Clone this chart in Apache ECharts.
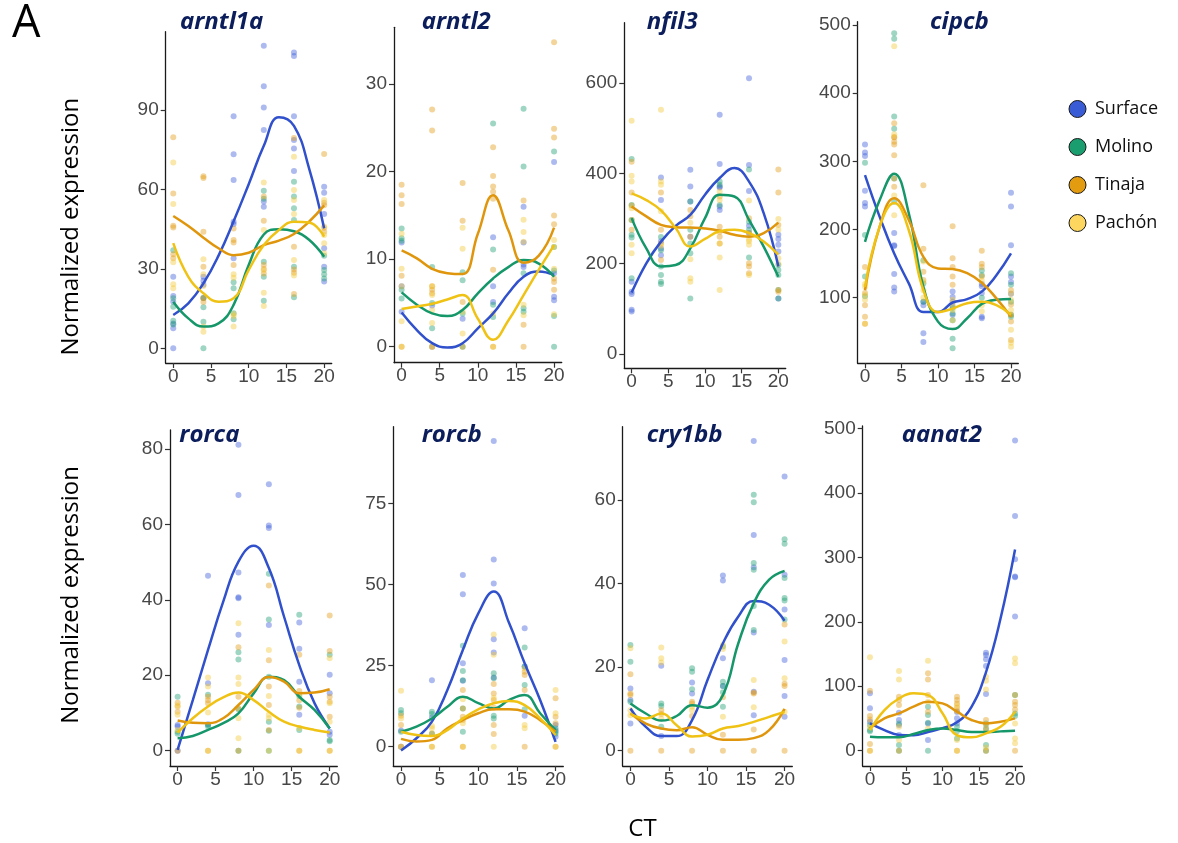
<!DOCTYPE html>
<html>
<head>
<meta charset="utf-8">
<script src="https://cdn.jsdelivr.net/npm/echarts@6/dist/echarts.min.js"></script>
<style>
html,body{margin:0;padding:0;background:#ffffff;}
#chart{width:1178px;height:843px;}
</style>
</head>
<body>
<div id="chart"></div>
<script>
// ================= DATA =================
const POPULATIONS = ['Surface', 'Molino', 'Tinaja', 'Pachón'];
const GENES = ['arntl1a', 'arntl2', 'nfil3', 'cipcb', 'rorca', 'rorcb', 'cry1bb', 'aanat2'];
const CT_SAMPLES = [0, 4, 8, 12, 16, 20];
const CT_FIT = [0, 2, 4, 6, 8, 10, 12, 14, 16, 18, 20];
const X_TICKS = [0, 5, 10, 15, 20];
const Y_TICKS = [
  [0, 30, 60, 90],
  [0, 10, 20, 30],
  [0, 200, 400, 600],
  [100, 200, 300, 400, 500],
  [0, 20, 40, 60, 80],
  [0, 25, 50, 75],
  [0, 20, 40, 60],
  [0, 100, 200, 300, 400, 500]
];

// Smooth fits, read at CT_FIT, order: Surface, Molino, Tinaja, Pachón
const arntl1aFit = [
  [12.6, 17, 24.5, 35, 48, 62, 76.5, 87.3, 84, 68, 45.3],
  [17.6, 11.3, 8.2, 9.4, 16.4, 31.5, 43, 45, 44.2, 41, 34.6],
  [50, 46.2, 41.8, 37.8, 35.2, 36.1, 39, 40.7, 43.2, 47.8, 54],
  [39.7, 27, 20.8, 17.6, 18.9, 29.6, 39, 44.7, 47.8, 47.5, 42.2]
];
const arntl2Fit = [
  [3.9, 1.9, 0.4, -0.1, 0.4, 2.1, 3.8, 6.1, 8, 8.6, 8.2],
  [6.2, 4.8, 3.8, 3.5, 4.2, 6.1, 7.8, 9.1, 9.9, 9.5, 8],
  [11, 10.1, 8.9, 8.4, 8.3, 12.9, 17.3, 13.3, 9.6, 10.4, 13.6],
  [4.3, 4.6, 4.9, 5.4, 5.9, 3.2, 0.8, 3, 5.9, 8.8, 11.6]
];
const nfil3Fit = [
  [136, 201, 249, 284, 308, 353, 390, 412, 382, 312, 194],
  [301, 234, 194, 197, 234, 301, 353, 349, 297, 238, 171],
  [327, 305, 286, 281, 280, 278, 273, 264, 260, 268, 291],
  [356, 341, 318, 279, 238, 255, 272, 275, 268, 249, 220]
];
const cipcbFit = [
  [280, 219, 165, 121, 79, 79, 93, 98, 109, 133, 165],
  [182, 243, 282, 224, 116, 65, 54, 70, 91, 97, 98],
  [111, 204, 246, 214, 160, 143, 142, 136, 122, 99, 72],
  [116, 204, 239, 199, 111, 79, 84, 92, 94, 89, 75]
];
const rorcaFit = [
  [0.2, 13.4, 26.7, 39.5, 50.1, 54.3, 48.4, 35.5, 22.7, 12.6, 5.9],
  [3.3, 3.9, 5.5, 7.3, 9.9, 15.2, 19.6, 18.7, 14.3, 10.8, 5.9],
  [8, 7.4, 7.3, 8.6, 12.1, 16.1, 19.5, 18.3, 15.2, 15.4, 16.3],
  [4.8, 8.6, 11.7, 14.1, 15.4, 13.4, 10.3, 7.7, 6.4, 5.5, 4.8]
];
const rorcbFit = [
  [-1.2, 2.6, 7.7, 17.5, 29.8, 41.1, 47.8, 38, 25.7, 14.4, 1.5],
  [4.6, 6.2, 8.7, 12.3, 15.4, 13.4, 11.8, 14.4, 15.9, 10.3, 5.1],
  [2.4, 1.6, 2.1, 5.7, 8.2, 10.3, 11.5, 11.5, 10.8, 8.2, 4.6],
  [4.6, 3.6, 3.3, 5.1, 8.7, 11.5, 13.4, 14.1, 12.8, 8.7, 3.6]
];
const cry1bbFit = [
  [10.1, 5.7, 3.5, 3.5, 7.3, 16.9, 25.7, 32.1, 35.8, 34.9, 31.1],
  [11.3, 8.9, 7.2, 8.3, 10.9, 10.3, 13.3, 25.7, 35.3, 40.9, 43],
  [8.9, 6.5, 5.3, 4.9, 5.6, 3.8, 2.6, 2.6, 3, 4.9, 10],
  [8.8, 7.7, 8.9, 6.1, 3.4, 3.8, 5.3, 5.9, 6.9, 8.1, 9.3]
];
const aanat2Fit = [
  [42.4, 32, 24.5, 24, 29, 35, 44, 68, 122, 205, 312],
  [21.7, 20.7, 20.7, 25.9, 32, 34.6, 32, 29, 29, 30, 31],
  [34.6, 50.2, 57.9, 68.3, 76, 73.4, 60.5, 47.6, 42.4, 45, 50.2],
  [32, 63, 81, 89, 86.3, 58, 24, 20.7, 27, 37, 60.5]
];

// Observations per population, grouped by CT_SAMPLES
const arntl1aObs = [
  [[0, 7.6, 9.4, 17.6, 19.8, 27], [27, 25.5, 24, 19], [87.7, 73.3, 63.6, 47.8, 47, 34], [114.3, 99, 91, 82.5, 55.5, 53.5], [111.7, 110.4, 87.7, 78.7, 75.5, 67], [61, 58.8, 50.7, 37.8, 30.8, 25.2]],
  [[37, 18.9, 15.7, 10.4, 9], [19, 15.5, 10, 0], [25, 22.7, 13.2, 11], [59.5, 56.5, 32.7, 27, 18], [62.9, 57.3, 52.9, 48.5, 30.8, 19.3], [35, 29.6, 28, 26.4]],
  [[79.7, 58.5, 46.3, 45.6, 35.5, 34], [65, 64.3, 44, 30.8, 18.9, 17.5], [45.3, 40.9, 40, 31.5], [57.3, 48.2, 31.5, 30, 28.3], [79.4, 38.4, 29.8, 28.5, 20.5], [73.4, 55, 54, 45.5, 44]],
  [[70.2, 54.5, 32.5, 24.2, 22.7], [33.6, 28, 23.5, 8.2, 6.3], [28, 26.7, 13, 12.2, 8.2], [62.6, 44.7, 29.5, 21, 16], [72.4, 59.8, 56, 50.7, 33.4, 27.5], [56, 46, 42.8, 39.7, 35.9]]
];
const arntl2Obs = [
  [[11.9, 6.9, 4], [4.7, 0], [3.2], [12.5, 6.9, 5.1], [16, 11.9, 9.4, 9.1], [21.1, 8.4, 5.7, 5.3]],
  [[13.5, 12.4, 12.1, 6.5, 5.5], [9.1, 5, 2.1], [8.5, 7.6, 3.8, 0], [25.5, 11.1, 4.8, 3.4], [27.2, 20.6, 8.4, 4.4, 4], [22.3, 11.4, 8.7, 3.5, 0]],
  [[18.5, 17.3, 16.3, 8.1, 0], [27.1, 24.7, 6.9, 6.5, 6.1, 0], [18.7, 14.4, 5.1, 0], [22.8, 19.5, 18.3, 17.7, 16.9, 8.8, 0], [16.7, 2.5, 0], [34.8, 24.9, 23.9, 15, 14, 7.8, 7.4, 6.5]],
  [[12.9, 8.9, 6.9, 2.9, 0], [6.9, 5.9, 4.2, 2.7, 0], [13.6, 11.2, 4, 1.5], [3.8, 0], [14.5, 13.1, 12, 4.8, 3.6], [12.2, 11.4, 8.9, 3.7]]
];
const nfil3Obs = [
  [[160, 138, 133, 98, 94], [391, 341, 250, 234, 219], [408, 371, 338, 260], [530, 421, 371, 369, 327, 319], [611, 419, 361, 284, 268], [264, 255, 242, 227, 123]],
  [[432, 330, 297, 264, 258, 168], [259, 230, 194, 175, 160, 155], [338, 275, 245, 223, 123], [382, 375, 330], [409, 293, 275, 214], [197, 186, 175, 142, 123]],
  [[426, 358, 329, 297, 275], [358, 275, 245, 208], [319, 305, 260], [349, 282, 271, 260, 245], [301, 268, 201, 194, 179], [409, 358, 286, 142, 138]],
  [[517, 395, 382, 323, 242, 223], [541, 382, 375, 316, 240], [291, 210, 168, 160], [360, 341, 245, 214, 142], [340, 254, 250, 242, 175], [299, 275, 212, 200]]
];
const cipcbObs = [
  [[325, 313, 308, 257, 239, 234], [195, 177, 176, 135, 115, 109], [94, 89, 48, 35], [109, 101, 94, 87, 75], [120, 117, 107, 72, 70], [254, 234, 177, 131, 123, 106]],
  [[298, 192, 131, 102], [488, 480, 366, 348, 275, 241], [155, 121, 94], [85, 77, 67, 40, 26], [140, 133, 100], [136, 119, 94, 75, 72]],
  [[145, 107, 89, 72, 62], [356, 336, 335, 329, 325, 309, 275, 263], [265, 172, 138, 126], [205, 158, 145, 131, 119], [169, 150, 145, 131], [111, 90, 75, 65, 38]],
  [[120, 116, 104, 97, 62], [469, 340, 250, 221], [153, 123, 111, 100], [97, 90, 82, 67], [125, 89, 80], [106, 97, 82, 53, 34, 28]]
];
const rorcaObs = [
  [[6.8, 6.4, 0], [46.4, 17.9, 7], [81.1, 67.8, 47.2, 40.7, 40.4, 30.7], [70.6, 59.7, 59, 33.3], [34, 27, 18.3, 9.5], [20.1, 15.2, 5, 4.2]],
  [[14.3, 5, 4.5], [14.8, 6.8, 6.4], [26.1, 24.2, 11, 0], [46.9, 34.8, 19.6, 7.7, 5.3, 0], [36, 14.5, 11.7, 5.5], [25.4, 2.8, 2.5]],
  [[12.7, 11.7, 10.3, 0], [14.3, 13.4, 12.6, 0], [27.4, 14.3, 11.2, 0], [43.8, 24, 17, 12.1, 5.5], [25.4, 15.8, 13.4, 11.4, 0], [35.8, 26.4, 14.3, 13, 9, 0]],
  [[12, 9.5, 5.5], [19.4, 17, 10.1, 0], [33.8, 19.4, 17.7, 8.6, 3.3], [26.7, 14.5, 9.5, 8.6, 0], [14.8, 6, 0], [24.5, 12.6, 7.7, 0]]
];
const rorcbObs = [
  [[5, 0], [20.5, 9], [52.9, 47, 25.7, 20.3], [94.2, 57.7, 50.3, 33.1, 29, 21.3], [36.5, 24.7, 9.5], [6.7, 5, 3.1]],
  [[11.3, 10.3, 4.6], [10.8, 10.1, 4], [31.1, 23.3, 20.5, 11.8, 4.6], [22.6, 21.1, 9.5, 8.7], [30.6, 24.7, 19, 11.5], [5.7, 4.6, 4]],
  [[9.5, 6.7, 0], [4.1, 0], [17.5, 11.8, 9.2, 8.2, 0], [19.3, 16.4, 14.4, 12, 6.7, 3.9], [23.1, 22.1, 17.5, 0], [14.9, 9.2, 7.2, 0]],
  [[17.2, 8.7, 0], [6.4, 5.7, 0], [14.6, 7.2, 0], [34.6, 28.3, 15, 0], [24.1, 6.7, 5.7], [17.5, 10.3, 0]]
];
const cry1bbObs = [
  [[14.9, 12.1, 6.5], [20.3, 3.5], [16.3, 13.7], [41.9, 40.7, 22.1, 15.5], [74.1, 51.6, 43.9, 28.3, 14.1, 8.5], [65.6, 42.1, 33.8, 21.7, 13.1, 8.1]],
  [[25.3, 21.3, 11.7], [11.3, 10.7, 5.7], [19.7, 18.9, 14.7], [24.9, 16.5, 15.5, 14, 10.5], [61.2, 59.4, 44.9, 43.3, 34.6, 28.9], [50.6, 49.5, 41.3, 36.5, 35.9, 31.4]],
  [[18.3, 13.7, 13.3, 0], [9.7, 8.8, 0], [11.7, 11.3, 8.3, 0], [12.8, 3.8, 0], [13.9, 13.7, 5.1, 0], [30.2, 16, 15.5, 0]],
  [[24.5, 9.7, 8.5], [24.7, 22.1, 21.1, 7.7], [10.5, 9.7], [25.3, 24.3, 8.1], [16.9, 10.4], [26.1, 17.3, 9.3]]
];
const aanat2Obs = [
  [[89, 65.7, 45], [59, 47.6, 40, 24.3], [42.4, 16.5], [60, 50.2, 42.4], [152, 148.4, 141.7, 131.3, 87.9], [481, 364, 297, 270, 269, 208]],
  [[39.8, 32, 30], [42.4, 8.8, 0], [68.3, 55.3, 43.4, 0], [37.2, 30, 19.1], [42.4, 34.6, 8.8, 0], [86.3, 57.9, 53.8]],
  [[93, 53.8, 48.6, 10.3, 0], [83.8, 78.6, 70.8, 0], [120, 110.6, 86.3, 60.5], [83.8, 78.6, 73.4, 66.7, 61.5, 0], [47.6, 39.8, 32, 0], [86.3, 76, 70.8, 64.1, 0]],
  [[144.8, 37.2, 0], [123.6, 110.6, 37.2, 16.5], [139.6, 76, 34.6], [70, 16.5, 0], [114.8, 108.6, 95.1, 5], [143.2, 135.5, 42.4, 19.1, 11.4]]
];

const FITS = [arntl1aFit, arntl2Fit, nfil3Fit, cipcbFit, rorcaFit, rorcbFit, cry1bbFit, aanat2Fit];
const OBS = [arntl1aObs, arntl2Obs, nfil3Obs, cipcbObs, rorcaObs, rorcbObs, cry1bbObs, aanat2Obs];

// ================= LAYOUT & STYLE =================
// panel plot boxes in pixels: [left, top, right, bottom]
const PANEL_BOX = [
  [165.7, 31.7, 331.7, 363], [394, 27.3, 561.7, 362.7], [624.3, 22.7, 785.7, 368.3], [857.7, 21.7, 1018.3, 363.3],
  [170, 430, 337.3, 766], [393.3, 426.7, 563.3, 766], [622.7, 426.7, 792.3, 766], [862.7, 426, 1022.3, 766]
];
const Y_RANGE = [[-5.55, 119.6], [-1.83, 36.5], [-31.7, 734], [3.8, 505], [-4.06, 85], [-5.95, 98.6], [-3.66, 77.5], [-23.7, 503.6]];
const X_RANGE = [-1, 21];
const TITLE_POS = [[180, 10], [421.7, 10], [646.7, 10], [930, 10], [179.3, 423.5], [421.7, 423.5], [646.7, 423.5], [901.7, 423.5]];
const LINE_COLORS = ['#3050cc', '#15976a', '#e0960c', '#efc214'];
const POINT_COLORS = ['#3a5bd9', '#1a9e70', '#e39a10', '#f4c935'];
const LEGEND_FILL = ['#3a5bd6', '#1a9e70', '#e39b10', '#fdd660'];

const grids = [], xAxes = [], yAxes = [], scatterSeries = [], lineSeries = [];
const graphics = [];
const tickLabelStyle = { fontSize: 19, color: '#474747', fontFamily: 'Liberation Sans' };

GENES.forEach((gene, i) => {
  const [l, t, r, b] = PANEL_BOX[i];
  grids.push({ left: l, top: t, width: r - l, height: b - t });
  xAxes.push({
    type: 'value', gridIndex: i, min: X_RANGE[0], max: X_RANGE[1],
    axisLine: { show: true, onZero: false, lineStyle: { color: '#1a1a1a', width: 1.3 } },
    axisTick: { show: true, length: 5, customValues: X_TICKS, lineStyle: { color: '#333', width: 1.2 } },
    axisLabel: Object.assign({ customValues: X_TICKS, margin: 4 }, tickLabelStyle),
    splitLine: { show: false }
  });
  yAxes.push({
    type: 'value', gridIndex: i, min: Y_RANGE[i][0], max: Y_RANGE[i][1],
    axisLine: { show: true, onZero: false, lineStyle: { color: '#1a1a1a', width: 1.3 } },
    axisTick: { show: true, length: 5, customValues: Y_TICKS[i], lineStyle: { color: '#333', width: 1.2 } },
    axisLabel: Object.assign({ customValues: Y_TICKS[i], margin: 7 }, tickLabelStyle),
    splitLine: { show: false }
  });
  POPULATIONS.forEach((pop, p) => {
    const pts = [];
    OBS[i][p].forEach((vals, k) => vals.forEach(v => pts.push([CT_SAMPLES[k], v])));
    scatterSeries.push({
      type: 'scatter', name: pop, xAxisIndex: i, yAxisIndex: i, data: pts,
      symbol: 'circle', symbolSize: 6, silent: true, z: 2,
      itemStyle: { color: POINT_COLORS[p], opacity: 0.42 }
    });
    lineSeries.push({
      type: 'line', name: pop, xAxisIndex: i, yAxisIndex: i,
      data: CT_FIT.map((x, k) => [x, FITS[i][p][k]]),
      smooth: 0.45, showSymbol: false, symbol: 'none', silent: true, z: 3,
      lineStyle: { color: LINE_COLORS[p], width: 2.5 }, itemStyle: { color: LINE_COLORS[p] }
    });
  });
  graphics.push({
    type: 'text', x: TITLE_POS[i][0], y: TITLE_POS[i][1], silent: true,
    style: { text: gene, font: 'italic bold 24px "Open Sans"', fill: '#0b1d5b', align: 'left', verticalAlign: 'top' }
  });
});

graphics.push(
  { type: 'text', x: 12, y: 2, silent: true, style: { text: 'A', font: '45px "Open Sans"', fill: '#000', align: 'left', verticalAlign: 'top' } },
  { type: 'text', x: 71.2, y: 226.7, rotation: Math.PI / 2, silent: true, style: { text: 'Normalized expression', font: '24px "Open Sans"', fill: '#000', align: 'center', verticalAlign: 'middle' } },
  { type: 'text', x: 71.2, y: 595, rotation: Math.PI / 2, silent: true, style: { text: 'Normalized expression', font: '24px "Open Sans"', fill: '#000', align: 'center', verticalAlign: 'middle' } },
  { type: 'text', x: 642.5, y: 828.7, silent: true, style: { text: 'CT', font: '24px "Open Sans"', fill: '#000', align: 'center', verticalAlign: 'middle' } }
);

const option = {
  animation: false,
  backgroundColor: '#ffffff',
  grid: grids,
  xAxis: xAxes,
  yAxis: yAxes,
  legend: {
    orient: 'vertical', left: 1063.5, top: 95,
    itemWidth: 17, itemHeight: 17, itemGap: 20, icon: 'circle', selectedMode: false,
    data: POPULATIONS.map((n, p) => ({ name: n, icon: 'circle', itemStyle: { color: LEGEND_FILL[p], opacity: 1, borderColor: '#1a1a1a', borderWidth: 1 } })),
    textStyle: { fontFamily: 'Open Sans', fontSize: 18, color: '#111', padding: [0, 0, 0, 4] }
  },
  series: scatterSeries.concat(lineSeries),
  graphic: graphics
};

const chart = echarts.init(document.getElementById('chart'), null, { renderer: 'canvas', width: 1178, height: 843 });
chart.setOption(option);
</script>
</body>
</html>
